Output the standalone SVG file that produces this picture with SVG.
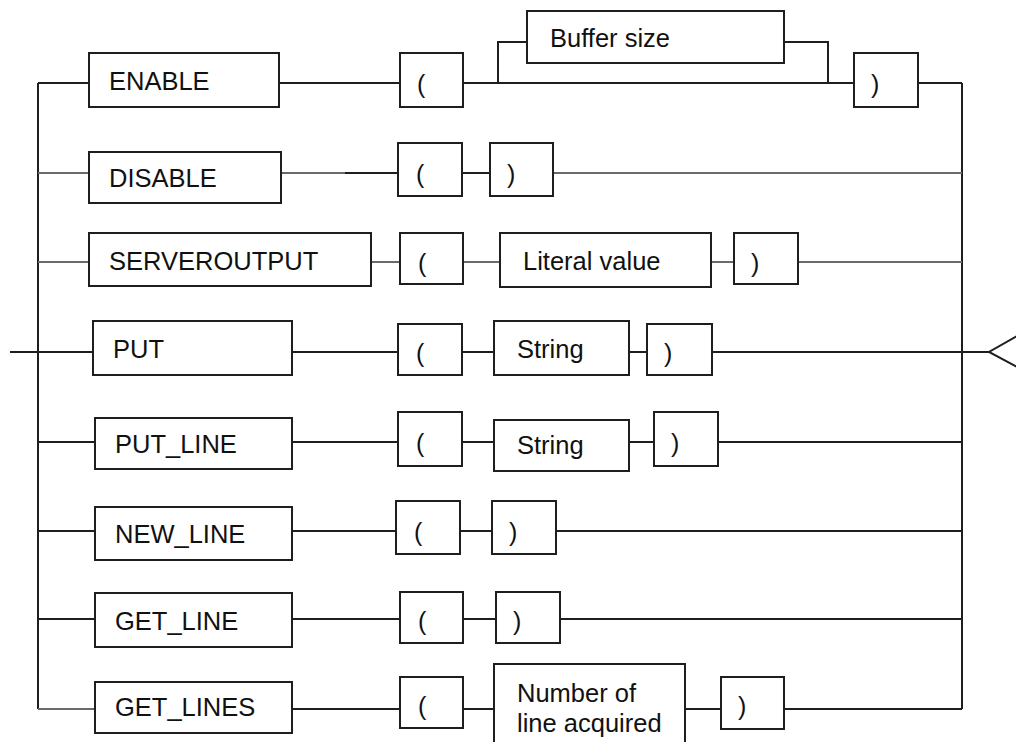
<svg xmlns="http://www.w3.org/2000/svg" width="1016" height="742" viewBox="0 0 1016 742">
<style>
.b{fill:#fff;stroke:#1e1e1e;stroke-width:2}
.c{fill:none;stroke:#1e1e1e;stroke-width:2}
.g{fill:none;stroke:#6a6a6a;stroke-width:2}
.t{font-family:"Liberation Sans",Arial,sans-serif;font-size:25.5px;fill:#111}
.p{font-family:"Liberation Sans",Arial,sans-serif;font-size:25px;fill:#111}
</style>
<rect width="1016" height="742" fill="#fff"/>
<g id="connectors">
<path class="c" d="M38,83 V709 M962,83 V709"/>
<path class="c" d="M38,83 H89 M279,83 H400 M463,83 H854 M918,83 H962 M498,83 V42 H527 M784,42 H828 V83"/>
<path class="g" d="M38,173 H89 M281,173 H345"/>
<path class="c" d="M345,173 H398 M462,173 H490"/>
<path class="g" d="M553,173 H962"/>
<path class="g" d="M38,262 H89 M371,262 H400 M463,262 H500 M711,262 H734 M798,262 H962"/>
<path class="c" d="M10,352 H93 M292,352 H398 M462,352 H494 M629,352 H647 M712,352 H989"/>
<polyline class="c" points="1017,336 989,352 1017,367"/>
<path class="c" d="M38,442 H95 M292,442 H398 M462,442 H494 M629,442 H654 M718,442 H962"/>
<path class="c" d="M38,531 H95 M292,531 H396 M460,531 H492 M556,531 H962"/>
<path class="c" d="M38,619 H95 M292,619 H400 M463,619 H496 M560,619 H962"/>
<path class="g" d="M38,709 H95"/>
<path class="c" d="M292,709 H400 M463,709 H494 M685,709 H721 M784,709 H962"/>
</g>
<g id="enable"><rect class="b" x="89" y="53" width="190" height="54"/><text class="t" x="109" y="90">ENABLE</text></g>
<g id="enable-lp"><rect class="b" x="400" y="53" width="63" height="54"/><text class="p" x="417" y="93">(</text></g>
<g id="buffer-size"><rect class="b" x="527" y="11" width="257" height="52"/><text class="t" x="550" y="47">Buffer size</text></g>
<g id="enable-rp"><rect class="b" x="854" y="53" width="64" height="54"/><text class="p" x="871" y="93">)</text></g>
<g id="disable"><rect class="b" x="89" y="152" width="192" height="51"/><text class="t" x="109" y="187">DISABLE</text></g>
<g id="disable-lp"><rect class="b" x="398" y="143" width="64" height="53"/><text class="p" x="416" y="183">(</text></g>
<g id="disable-rp"><rect class="b" x="490" y="143" width="63" height="53"/><text class="p" x="507" y="183">)</text></g>
<g id="serveroutput"><rect class="b" x="89" y="233" width="282" height="53"/><text class="t" x="109" y="270">SERVEROUTPUT</text></g>
<g id="serveroutput-lp"><rect class="b" x="400" y="233" width="63" height="51"/><text class="p" x="418" y="272">(</text></g>
<g id="literal-value"><rect class="b" x="500" y="233" width="211" height="54"/><text class="t" x="523" y="270">Literal value</text></g>
<g id="serveroutput-rp"><rect class="b" x="734" y="233" width="64" height="51"/><text class="p" x="751" y="272">)</text></g>
<g id="put"><rect class="b" x="93" y="321" width="199" height="54"/><text class="t" x="113" y="358">PUT</text></g>
<g id="put-lp"><rect class="b" x="398" y="324" width="64" height="51"/><text class="p" x="416" y="362">(</text></g>
<g id="put-string"><rect class="b" x="494" y="321" width="135" height="54"/><text class="t" x="517" y="358">String</text></g>
<g id="put-rp"><rect class="b" x="647" y="324" width="65" height="51"/><text class="p" x="664" y="362">)</text></g>
<g id="put-line"><rect class="b" x="95" y="418" width="197" height="51"/><text class="t" x="115" y="453">PUT_LINE</text></g>
<g id="put-line-lp"><rect class="b" x="398" y="412" width="64" height="54"/><text class="p" x="416" y="452">(</text></g>
<g id="put-line-string"><rect class="b" x="494" y="420" width="135" height="51"/><text class="t" x="517" y="454">String</text></g>
<g id="put-line-rp"><rect class="b" x="654" y="412" width="64" height="54"/><text class="p" x="671" y="452">)</text></g>
<g id="new-line"><rect class="b" x="95" y="507" width="197" height="53"/><text class="t" x="115" y="543">NEW_LINE</text></g>
<g id="new-line-lp"><rect class="b" x="396" y="501" width="64" height="53"/><text class="p" x="414" y="541">(</text></g>
<g id="new-line-rp"><rect class="b" x="492" y="501" width="64" height="53"/><text class="p" x="509" y="541">)</text></g>
<g id="get-line"><rect class="b" x="95" y="593" width="197" height="54"/><text class="t" x="115" y="630">GET_LINE</text></g>
<g id="get-line-lp"><rect class="b" x="400" y="592" width="63" height="51"/><text class="p" x="418" y="630">(</text></g>
<g id="get-line-rp"><rect class="b" x="496" y="592" width="64" height="51"/><text class="p" x="513" y="630">)</text></g>
<g id="get-lines"><rect class="b" x="95" y="682" width="197" height="51"/><text class="t" x="115" y="716">GET_LINES</text></g>
<g id="get-lines-lp"><rect class="b" x="400" y="677" width="63" height="51"/><text class="p" x="418" y="715">(</text></g>
<g id="number-of-line-acquired"><rect class="b" x="494" y="664" width="191" height="90"/><text class="t" x="517" y="702">Number of</text><text class="t" x="517" y="732">line acquired</text></g>
<g id="get-lines-rp"><rect class="b" x="721" y="677" width="63" height="52"/><text class="p" x="738" y="715">)</text></g>
</svg>
